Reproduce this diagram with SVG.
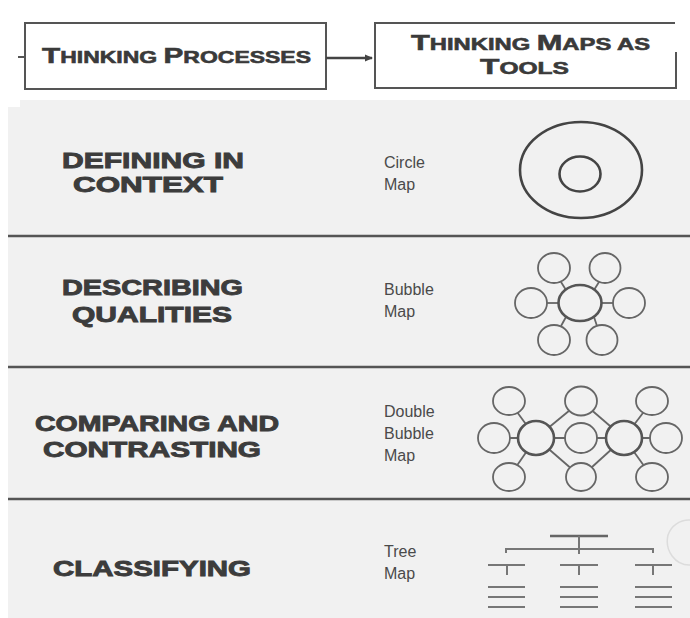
<svg xmlns="http://www.w3.org/2000/svg" width="690" height="618" viewBox="0 0 690 618">
<defs>
<style>
.hdr{font-family:"Liberation Sans",Arial,sans-serif;font-weight:bold;fill:#3a3a3a;stroke:#3a3a3a;stroke-width:0.6}
.big{font-size:22px}
.sm{font-size:17px}
.cat{font-family:"Liberation Sans",Arial,sans-serif;font-weight:bold;font-size:21.5px;fill:#3c3c3c;stroke:#3c3c3c;stroke-width:0.9}
.lbl{font-family:"Liberation Sans",Arial,sans-serif;font-size:16px;fill:#4a4a4a}
.box{fill:none;stroke:#555;stroke-width:2}
.div{stroke:#555;stroke-width:2.6}
.b{fill:none;stroke:#666;stroke-width:1.8}
.bc{fill:none;stroke:#555;stroke-width:2.6}
.ln{stroke:#666;stroke-width:1.8;fill:none}
.tr{stroke:#777;stroke-width:2;fill:none}
</style>
<marker id="ah" markerWidth="8" markerHeight="8" refX="7" refY="4" orient="auto" markerUnits="userSpaceOnUse">
<path d="M0,0.5 L8,4 L0,7.5 Z" fill="#444"/>
</marker>
</defs>
<rect x="0" y="0" width="690" height="618" fill="#ffffff"/>
<rect x="8" y="100" width="682" height="518" fill="#f1f1f1"/>
<rect x="8" y="100" width="12" height="7" fill="#ffffff"/>
<path d="M668,535 A22,22 0 0 1 690,520 M668,535 A22,24 0 0 0 690,565" fill="none" stroke="#dcdcdc" stroke-width="1.5"/>

<g id="dividers">
<line class="div" x1="8" y1="236" x2="690" y2="236"/>
<line class="div" x1="8" y1="367" x2="690" y2="367"/>
<line class="div" x1="8" y1="499" x2="690" y2="499"/>
</g>

<g id="node-processes">
<rect class="box" x="25" y="23" width="301" height="66"/>
<text class="hdr" x="42" y="63" textLength="269" lengthAdjust="spacingAndGlyphs"><tspan class="big">T</tspan><tspan class="sm">HINKING </tspan><tspan class="big">P</tspan><tspan class="sm">ROCESSES</tspan></text>
</g>

<g id="node-tools">
<path class="box" d="M676,52 L676,88 L375,88 L375,23 L675,23"/>
<text class="hdr" x="411" y="50" textLength="239" lengthAdjust="spacingAndGlyphs"><tspan class="big">T</tspan><tspan class="sm">HINKING </tspan><tspan class="big">M</tspan><tspan class="sm">APS AS</tspan></text>
<text class="hdr" x="480" y="74" textLength="89" lengthAdjust="spacingAndGlyphs"><tspan class="big">T</tspan><tspan class="sm">OOLS</tspan></text>
</g>

<g id="connectors">
<line x1="18" y1="57" x2="25" y2="57" stroke="#555" stroke-width="2"/>
<line x1="326" y1="58" x2="372" y2="58" stroke="#444" stroke-width="2.6" marker-end="url(#ah)"/>
</g>

<g id="row-defining">
<text class="cat" x="62" y="168" textLength="182" lengthAdjust="spacingAndGlyphs">DEFINING IN</text>
<text class="cat" x="73" y="192" textLength="150" lengthAdjust="spacingAndGlyphs">CONTEXT</text>
<text class="lbl" x="384" y="168">Circle</text>
<text class="lbl" x="384" y="190">Map</text>
<ellipse cx="581" cy="170" rx="61" ry="48" fill="none" stroke="#444" stroke-width="2.6"/>
<ellipse cx="580" cy="174" rx="20.5" ry="17.5" fill="none" stroke="#444" stroke-width="2.6"/>
</g>

<g id="row-describing">
<text class="cat" x="62" y="295" textLength="181" lengthAdjust="spacingAndGlyphs">DESCRIBING</text>
<text class="cat" x="72" y="322" textLength="160" lengthAdjust="spacingAndGlyphs">QUALITIES</text>
<text class="lbl" x="384" y="295">Bubble</text>
<text class="lbl" x="384" y="317">Map</text>
<g>
<line class="ln" x1="566" y1="290" x2="561" y2="282"/>
<line class="ln" x1="594" y1="290" x2="599" y2="282"/>
<line class="ln" x1="547" y1="303" x2="559" y2="303"/>
<line class="ln" x1="601" y1="303" x2="613" y2="303"/>
<line class="ln" x1="566" y1="317" x2="561" y2="326"/>
<line class="ln" x1="594" y1="317" x2="597" y2="326"/>
<ellipse class="bc" cx="580" cy="303" rx="21.5" ry="18"/>
<ellipse class="b" cx="554" cy="268" rx="16" ry="15"/>
<ellipse class="b" cx="605" cy="268" rx="15.5" ry="15"/>
<ellipse class="b" cx="531" cy="303" rx="16" ry="15"/>
<ellipse class="b" cx="629" cy="303" rx="16" ry="15"/>
<ellipse class="b" cx="554" cy="340" rx="16" ry="15"/>
<ellipse class="b" cx="602" cy="340" rx="15.5" ry="15"/>
</g>
</g>

<g id="row-comparing">
<text class="cat" x="35" y="431" textLength="244" lengthAdjust="spacingAndGlyphs">COMPARING AND</text>
<text class="cat" x="43" y="457" textLength="218" lengthAdjust="spacingAndGlyphs">CONTRASTING</text>
<text class="lbl" x="384" y="417">Double</text>
<text class="lbl" x="384" y="439">Bubble</text>
<text class="lbl" x="384" y="461">Map</text>
<g>
<line class="ln" x1="536" y1="438" x2="509" y2="401"/>
<line class="ln" x1="536" y1="438" x2="494" y2="438"/>
<line class="ln" x1="536" y1="438" x2="509" y2="477"/>
<line class="ln" x1="536" y1="438" x2="581" y2="401"/>
<line class="ln" x1="536" y1="438" x2="581" y2="438"/>
<line class="ln" x1="536" y1="438" x2="581" y2="477"/>
<line class="ln" x1="624" y1="438" x2="581" y2="401"/>
<line class="ln" x1="624" y1="438" x2="581" y2="438"/>
<line class="ln" x1="624" y1="438" x2="581" y2="477"/>
<line class="ln" x1="624" y1="438" x2="652" y2="401"/>
<line class="ln" x1="624" y1="438" x2="666" y2="438"/>
<line class="ln" x1="624" y1="438" x2="652" y2="477"/>
<ellipse class="bc" cx="536" cy="438" rx="18" ry="17" fill="#f1f1f1" style="fill:#f1f1f1"/>
<ellipse class="bc" cx="624" cy="438" rx="18" ry="17" style="fill:#f1f1f1"/>
<ellipse class="b" cx="581" cy="438" rx="16" ry="15" style="fill:#f1f1f1"/>
<ellipse class="b" cx="581" cy="401" rx="16" ry="14.5" style="fill:#f1f1f1"/>
<ellipse class="b" cx="581" cy="477" rx="15" ry="14" style="fill:#f1f1f1"/>
<ellipse class="b" cx="509" cy="401" rx="16" ry="14" style="fill:#f1f1f1"/>
<ellipse class="b" cx="494" cy="438" rx="16" ry="15" style="fill:#f1f1f1"/>
<ellipse class="b" cx="509" cy="477" rx="16" ry="14" style="fill:#f1f1f1"/>
<ellipse class="b" cx="652" cy="401" rx="16" ry="14" style="fill:#f1f1f1"/>
<ellipse class="b" cx="666" cy="438" rx="16" ry="15" style="fill:#f1f1f1"/>
<ellipse class="b" cx="652" cy="477" rx="16" ry="14" style="fill:#f1f1f1"/>
</g>
</g>

<g id="row-classifying">
<text class="cat" x="53" y="576" textLength="198" lengthAdjust="spacingAndGlyphs">CLASSIFYING</text>
<text class="lbl" x="384" y="557">Tree</text>
<text class="lbl" x="384" y="579">Map</text>
<g>
<line x1="550" y1="536" x2="608" y2="536" stroke="#666" stroke-width="2.6"/>
<line class="tr" x1="579" y1="536" x2="579" y2="554"/>
<path class="tr" d="M506,553 L506,549 L653,549 L653,553"/>
<line class="tr" x1="488" y1="565" x2="525" y2="565"/>
<line class="tr" x1="560" y1="565" x2="598" y2="565"/>
<line class="tr" x1="635" y1="565" x2="672" y2="565"/>
<line class="tr" x1="507" y1="565" x2="507" y2="575"/>
<line class="tr" x1="579" y1="565" x2="579" y2="575"/>
<line class="tr" x1="653" y1="565" x2="653" y2="575"/>
<line class="tr" x1="488" y1="587" x2="525" y2="587"/>
<line class="tr" x1="488" y1="597" x2="525" y2="597"/>
<line class="tr" x1="488" y1="607" x2="525" y2="607"/>
<line class="tr" x1="560" y1="587" x2="598" y2="587"/>
<line class="tr" x1="560" y1="597" x2="598" y2="597"/>
<line class="tr" x1="560" y1="607" x2="598" y2="607"/>
<line class="tr" x1="635" y1="587" x2="672" y2="587"/>
<line class="tr" x1="635" y1="597" x2="672" y2="597"/>
<line class="tr" x1="635" y1="607" x2="672" y2="607"/>
</g>
</g>
</svg>
